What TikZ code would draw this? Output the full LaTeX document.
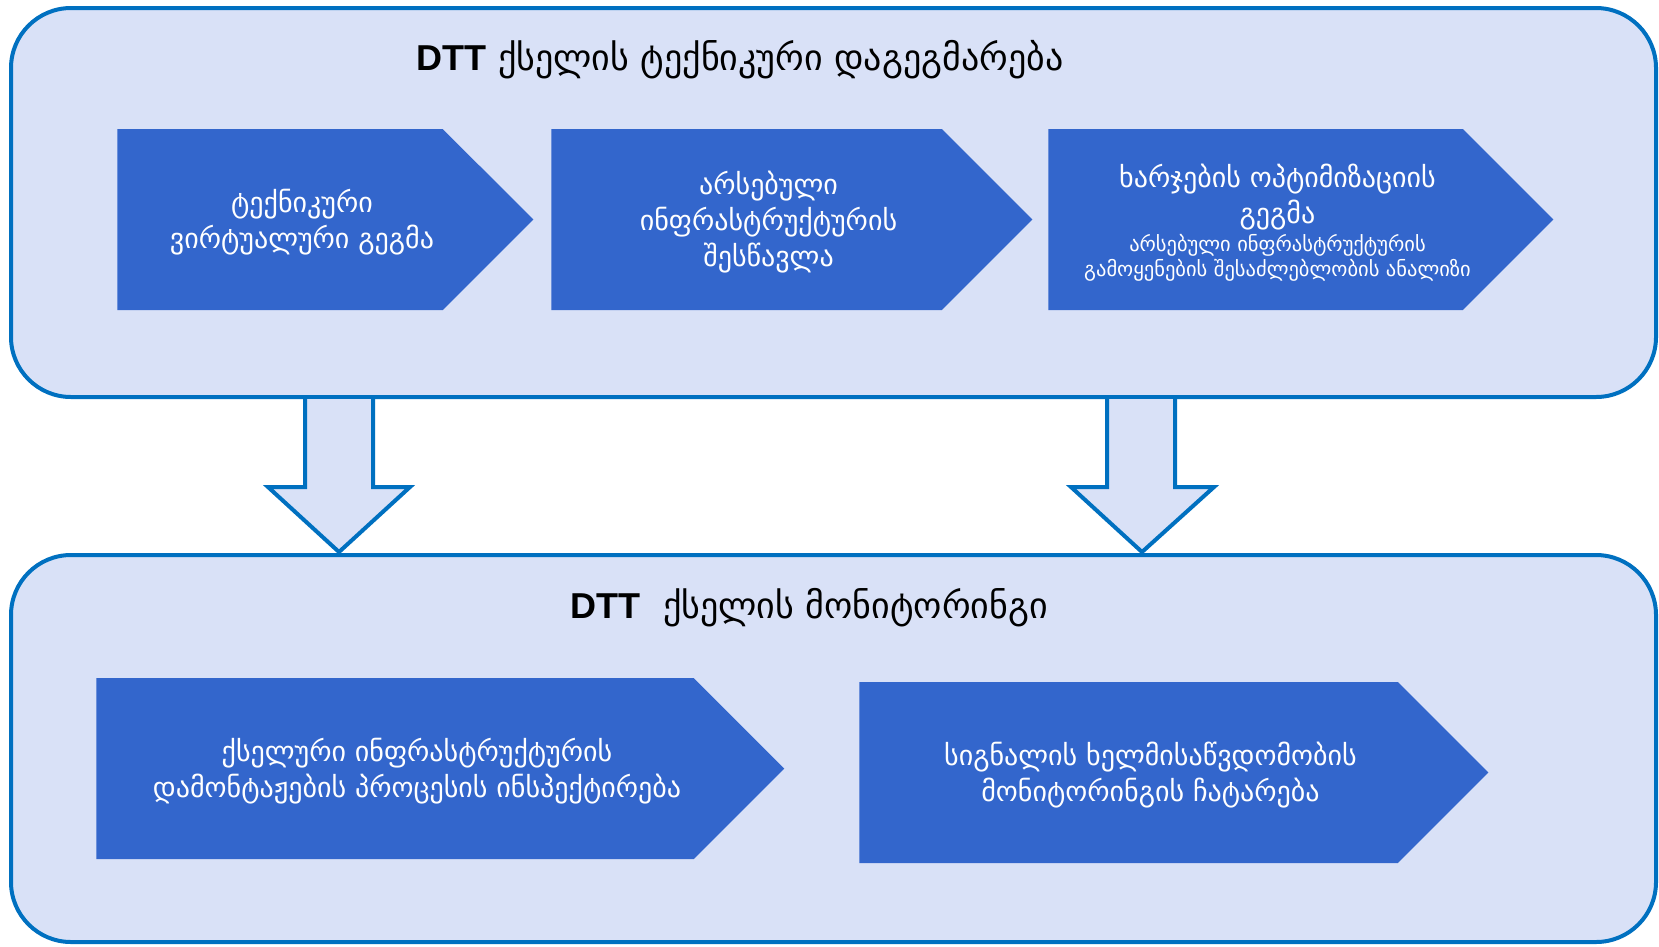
\documentclass[tikz,border=0pt]{standalone}
\usepackage{fontspec}
\setmainfont{DejaVu Sans}
\newfontfamily\arialfont{Liberation Sans}
\usepackage{tikz}
\usetikzlibrary{positioning, shapes.symbols, calc}
\definecolor{panelfill}{RGB}{217,225,247}
\definecolor{panelline}{RGB}{0,112,192}
\definecolor{chevfill}{RGB}{51,102,204}
\newcommand{\smalltxt}[1]{{\fontsize{20.5}{24}\selectfont #1}}

\begin{document}
\begin{tikzpicture}[
x=1pt, y=-1pt,
panel/.style={draw=panelline, line width=4pt, fill=panelfill, rounded corners=60pt, minimum width=1645pt, outer sep=0pt},
chevron/.style={signal, signal to=east, signal pointer angle=90, fill=chevfill, minimum height=181pt, inner sep=0pt},
chevtext/.style={text=white, align=center, inner sep=0pt, font=\fontsize{28}{36}\selectfont},
title/.style={font=\fontsize{36}{40}\selectfont},
downarrow/.style={draw=panelline, line width=4pt, fill=panelfill, line join=miter}
]
\useasboundingbox (0,0) rectangle (1659,946);

\node[panel, minimum height=389pt] (plan) at (833.5,202.5) {};
\node[panel, minimum height=387pt] (monitor) at (833.5,748.5) {};

\node[title] (plantitle) at (740,60) {{\arialfont\bfseries DTT} ქსელის ტექნიკური დაგეგმარება};
\node[title] (monitortitle) at (809,608) {{\arialfont\bfseries DTT}\ \ ქსელის მონიტორინგი};

\node[chevron, minimum width=416pt] (virtual) at (280,219.5) {};
\node[chevron, minimum width=481pt] (study) at (746.5,219.5) {};
\node[chevron, minimum width=505pt] (costs) at (1255.5,219.5) {};
\node[chevron, minimum width=688pt] (inspect) at (395,768.5) {};
\node[chevron, minimum width=629pt] (signal) at (1128.5,772.5) {};

\node[chevtext] (virtualtext) at ($(virtual)+(22,3)$) {ტექნიკური\\ვირტუალური გეგმა};
\node[chevtext] (studytext) at ($(study)+(22,3)$) {არსებული\\ინფრასტრუქტურის\\შესწავლა};
\node[chevtext] (coststext) at ($(costs)+(22,3)$)
{ხარჯების ოპტიმიზაციის\\გეგმა\\[-8pt]\smalltxt{არსებული ინფრასტრუქტურის}\\[-11pt]\smalltxt{გამოყენების შესაძლებლობის ანალიზი}};
\node[chevtext] (inspecttext) at ($(inspect)+(22,3)$) {ქსელური ინფრასტრუქტურის\\დამონტაჟების პროცესის ინსპექტირება};
\node[chevtext] (signaltext) at ($(signal)+(22,3)$) {სიგნალის ხელმისაწვდომობის\\მონიტორინგის ჩატარება};

\draw[downarrow] ($(plan.south west)+(294,2)$) -- ++(0,88) -- ++(-37,0) -- ($(monitor.north west)+(328,-3)$) -- ++(71,-65) -- ++(-37,0) -- ++(0,-88);
\draw[downarrow] ($(plan.south west)+(1096,2)$) -- ++(0,88) -- ++(-36,0) -- ($(monitor.north west)+(1131,-3)$) -- ++(72,-65) -- ++(-39,0) -- ++(0,-88);

\end{tikzpicture}
\end{document}
